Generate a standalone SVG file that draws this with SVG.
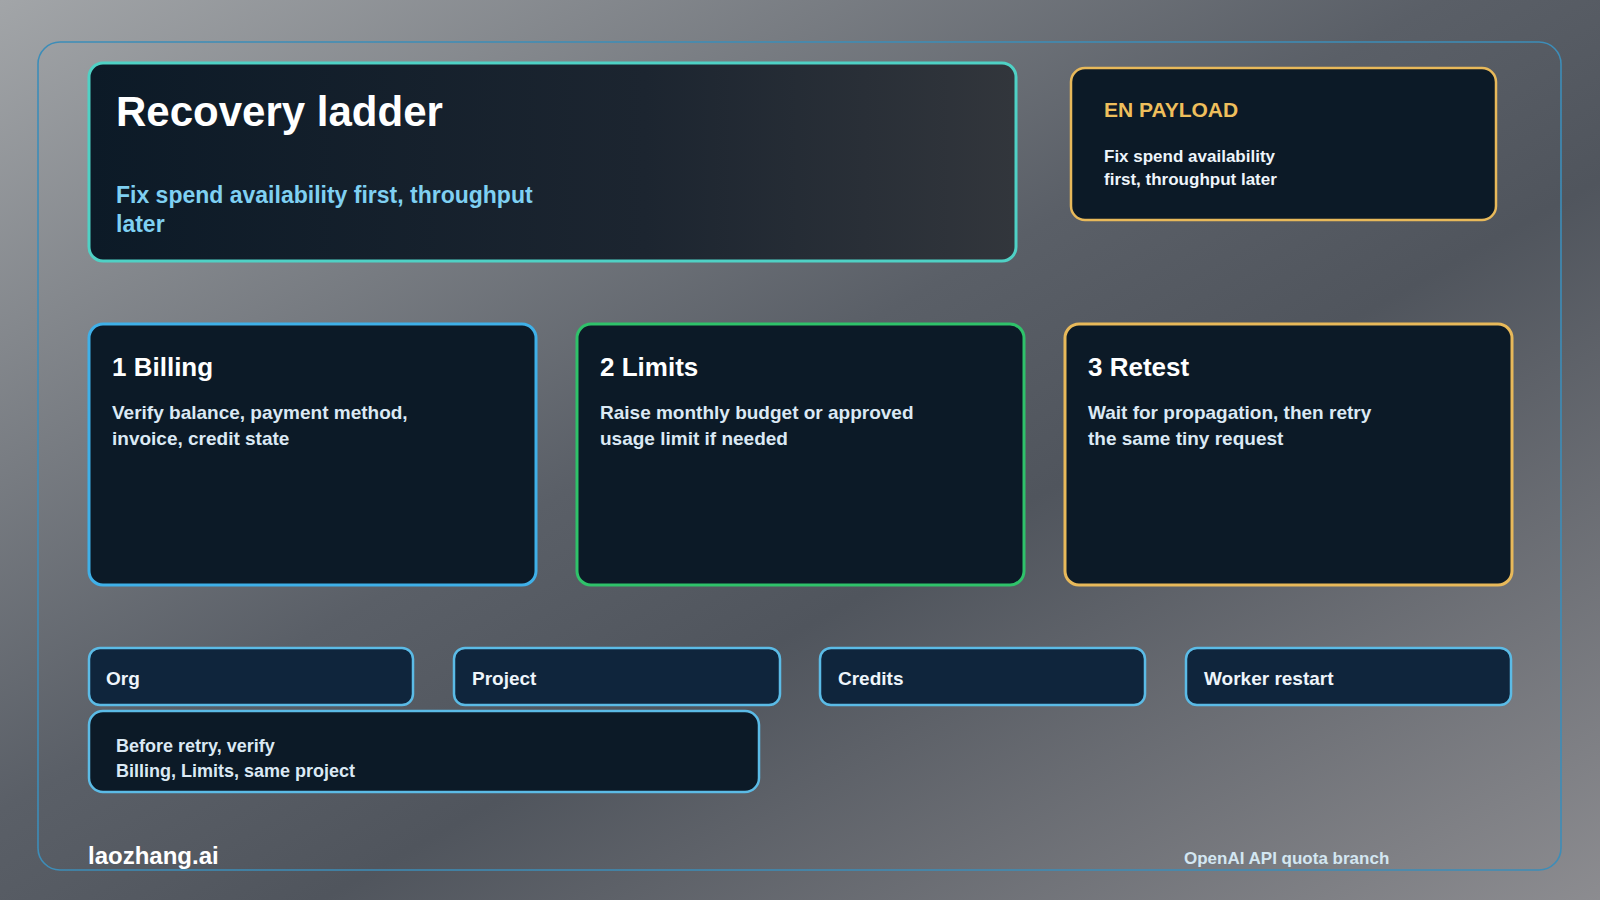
<svg xmlns="http://www.w3.org/2000/svg" width="1600" height="900" viewBox="0 0 1600 900">
<defs>
<linearGradient id="bg" x1="0" y1="0" x2="1" y2="1">
<stop offset="0" stop-color="#a2a5a8"/>
<stop offset="0.45" stop-color="#5a5f67"/>
<stop offset="0.6" stop-color="#50555d"/>
<stop offset="1" stop-color="#8c8c90"/>
</linearGradient>
<linearGradient id="hero" x1="0" y1="0" x2="1" y2="0">
<stop offset="0" stop-color="#0c1a27"/>
<stop offset="0.6" stop-color="#1c2530"/>
<stop offset="1" stop-color="#32363c"/>
</linearGradient>
<style>
.t{font-family:"Liberation Sans",Arial,sans-serif;font-weight:bold}
.card{fill:#0c1a27;stroke-width:3}
.chip{fill:#0f253c;stroke:#5bbbe6;stroke-width:2.5}
.h{fill:#ffffff;font-size:26px}
.b{fill:#dbe9f4;font-size:19px}
.cl{fill:#eef5fb;font-size:19px}
</style>
</defs>
<rect width="1600" height="900" fill="url(#bg)"/>
<rect x="38" y="42" width="1523" height="828" rx="22" fill="none" stroke="#3d8db8" stroke-width="1.6"/>

<g id="hero-card">
<rect x="89" y="63" width="927" height="198" rx="14" fill="url(#hero)" stroke="#4fd1c5" stroke-width="3"/>
<text class="t" x="116" y="126" font-size="42" fill="#ffffff">Recovery ladder</text>
<text class="t" x="116" y="203" font-size="23" fill="#7fd0f2">Fix spend availability first, throughput</text>
<text class="t" x="116" y="232" font-size="23" fill="#7fd0f2">later</text>
</g>

<g id="payload">
<rect x="1071" y="68" width="425" height="152" rx="14" fill="#0c1a27" stroke="#e8b95a" stroke-width="2.5"/>
<text class="t" x="1104" y="117" font-size="21" fill="#efbf5c">EN PAYLOAD</text>
<text class="t" x="1104" y="162" font-size="17" fill="#eef5fb">Fix spend availability</text>
<text class="t" x="1104" y="185" font-size="17" fill="#eef5fb">first, throughput later</text>
</g>

<g id="billing">
<rect class="card" x="89" y="324" width="447" height="261" rx="14" stroke="#3fb0e8"/>
<text class="t h" x="112" y="376">1 Billing</text>
<text class="t b" x="112" y="419">Verify balance, payment method,</text>
<text class="t b" x="112" y="445">invoice, credit state</text>
</g>

<g id="limits">
<rect class="card" x="577" y="324" width="447" height="261" rx="14" stroke="#2fc26a"/>
<text class="t h" x="600" y="376">2 Limits</text>
<text class="t b" x="600" y="419">Raise monthly budget or approved</text>
<text class="t b" x="600" y="445">usage limit if needed</text>
</g>

<g id="retest">
<rect class="card" x="1065" y="324" width="447" height="261" rx="14" stroke="#e8b95a"/>
<text class="t h" x="1088" y="376">3 Retest</text>
<text class="t b" x="1088" y="419">Wait for propagation, then retry</text>
<text class="t b" x="1088" y="445">the same tiny request</text>
</g>

<g id="org">
<rect class="chip" x="89" y="648" width="324" height="57" rx="11"/>
<text class="t cl" x="106" y="685">Org</text>
</g>
<g id="project">
<rect class="chip" x="454" y="648" width="326" height="57" rx="11"/>
<text class="t cl" x="472" y="685">Project</text>
</g>
<g id="credits">
<rect class="chip" x="820" y="648" width="325" height="57" rx="11"/>
<text class="t cl" x="838" y="685">Credits</text>
</g>
<g id="worker">
<rect class="chip" x="1186" y="648" width="325" height="57" rx="11"/>
<text class="t cl" x="1204" y="685">Worker restart</text>
</g>

<g id="before-retry">
<rect x="89" y="711" width="670" height="81" rx="14" fill="#0c1a27" stroke="#5bbbe6" stroke-width="2.5"/>
<text class="t" x="116" y="752" font-size="18" fill="#dbe9f4">Before retry, verify</text>
<text class="t" x="116" y="777" font-size="18" fill="#dbe9f4">Billing, Limits, same project</text>
</g>

<g id="connectors"></g>

<text class="t" x="88" y="864" font-size="24" fill="#ffffff">laozhang.ai</text>
<text class="t" x="1184" y="864" font-size="17" fill="#d3e6f1">OpenAI API quota branch</text>
</svg>
